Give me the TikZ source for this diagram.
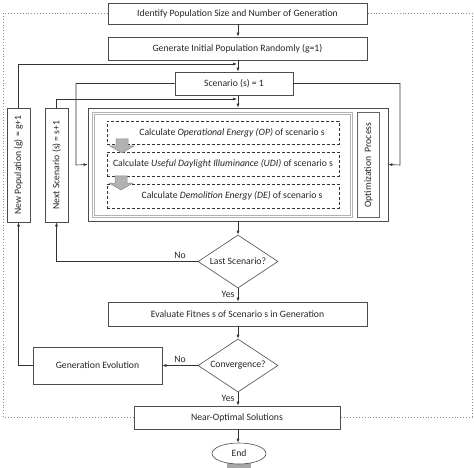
\documentclass[tikz,border=0pt]{standalone}
\usepackage{fontspec}
\setmainfont{Carlito}
\usetikzlibrary{shapes.geometric,arrows.meta,calc}
\begin{document}
\begin{tikzpicture}[x=1pt,y=-1pt,
  every node/.style={font=\fontsize{9.7}{11}\selectfont, text=black!85},
  box/.style={draw=black!70, fill=white, line width=0.6pt, inner sep=0pt},
  dbox/.style={draw=black!80, dashed, dash pattern=on 3pt off 2pt, line width=0.8pt, fill=white, inner sep=0pt},
  dia/.style={diamond, draw=black!70, fill=white, line width=0.6pt, inner sep=0pt, aspect=1.5},
  conn/.style={draw=black!80, line width=0.6pt, -{Latex[length=4pt,width=3pt]}},
  lbl/.style={font=\fontsize{9.7}{11}\selectfont}
]
\useasboundingbox (0,0) rectangle (474,468);
% dotted frame
\draw[black!45, dotted, line width=0.9pt] (3,13) rectangle (472,417);

\coordinate (xl) at (238,0);

\node[box, minimum width=259, minimum height=21] (top) at (237.5,13.5) {Identify Population Size and Number of Generation};
\node[box, minimum width=259, minimum height=23] (gen) at (237.5,48.5) {Generate Initial Population Randomly (g=1)};
\node[box, minimum width=118, minimum height=23] (scen) at (234,83.5) {Scenario (s) = 1};

\node[box, rotate=90, minimum width=114, minimum height=23] (newpop) at (18.5,165) {New Population (g) = g+1};
\node[box, rotate=90, minimum width=114, minimum height=23] (nextsc) at (56.5,165) {Next Scenario (s) = s+1};

\node[box, minimum width=300, minimum height=113] (big) at (238,164.5) {};
\node[draw=black!30, double=white, double distance=1.2pt, line width=0.5pt, minimum width=258, minimum height=103, inner sep=0pt] (inner) at (222.5,165) {};
\node[draw=black!60, line width=0.9pt, rotate=90, minimum width=105, minimum height=22, inner sep=0pt] (opt) at (368.5,165) {Optimization\ \ Process};

\node[dbox, minimum width=232, minimum height=23] (c1) at (223,132.5) {\hspace*{18pt}Calculate \textit{Operational Energy (OP)} of scenario s};
\node[dbox, minimum width=232, minimum height=24] (c2) at (223,164) {Calculate \textit{Useful Daylight Illuminance (UDI)} of scenario s};
\node[dbox, minimum width=232, minimum height=24] (c3) at (223,196) {\hspace*{18pt}Calculate \textit{Demolition Energy (DE)} of scenario s};

% gray block arrows
\filldraw[fill=black!30, draw=black!45, line width=0.5pt]
  (116,139) -- (128,139) -- (128,146) -- (134,146) -- (122,153) -- (110,146) -- (116,146) -- cycle;
\filldraw[fill=black!30, draw=black!45, line width=0.5pt]
  (115,176) -- (127,176) -- (127,183) -- (133,183) -- (121,190) -- (109,183) -- (115,183) -- cycle;

\node[dia, minimum width=80, minimum height=53] (last) at (238,261.5) {Last Scenario?};
\node[box, minimum width=259, minimum height=24] (eval) at (237.5,314) {Evaluate Fitnes s of Scenario s in Generation};
\node[dia, minimum width=80, minimum height=53] (conv) at (238,365.5) {Convergence?};
\node[box, minimum width=129, minimum height=37] (genevo) at (97.5,365.5) {Generation Evolution};
\node[box, minimum width=206, minimum height=23] (near) at (237,417.5) {Near-Optimal Solutions};
\fill[black!35] (227,463) rectangle (251,468);
\node[ellipse, draw=black!70, fill=white, line width=0.6pt, minimum width=54, minimum height=21, inner sep=0pt] (end) at (239,453.5) {End};

% main flow
\draw[conn] (top.south -| xl) -- (gen.north -| xl);
\draw[conn] (gen.south -| xl) -- (scen.north -| xl);
\draw[conn] (scen.south -| xl) -- (big.north -| xl);
\draw[conn] (big.south -| xl) -- (last.north);
\draw[conn] (last.south) -- node[lbl, left, pos=0.45] {Yes} (eval.north -| last.south);
\draw[conn] (eval.south -| xl) -- (conv.north);
\draw[conn] (conv.south) -- node[lbl, left, pos=0.45] {Yes} (near.north -| conv.south);
\draw[conn] (near.south -| xl) -- (end.north -| xl);

% scenario to big box sides
\draw[conn] (scen.west) -| (76,165) -- (big.west);
\draw[conn] (scen.east) -| (400,165) -- (big.east);

% feedback loops
\coordinate (fb1) at (237,64);
\coordinate (fb2) at (237,99);
\draw[conn] (newpop.east) |- (fb1);
\draw[conn] (nextsc.east) |- (fb2);
\draw[conn] (last.west) -| (nextsc.west);
\node[lbl] (no1) at (180,255) {No};
\draw[conn] (conv.west) -- (genevo.east);
\node[lbl] (no2) at (180,359) {No};
\draw[conn] (genevo.west) -| (newpop.west);
\end{tikzpicture}
\end{document}
